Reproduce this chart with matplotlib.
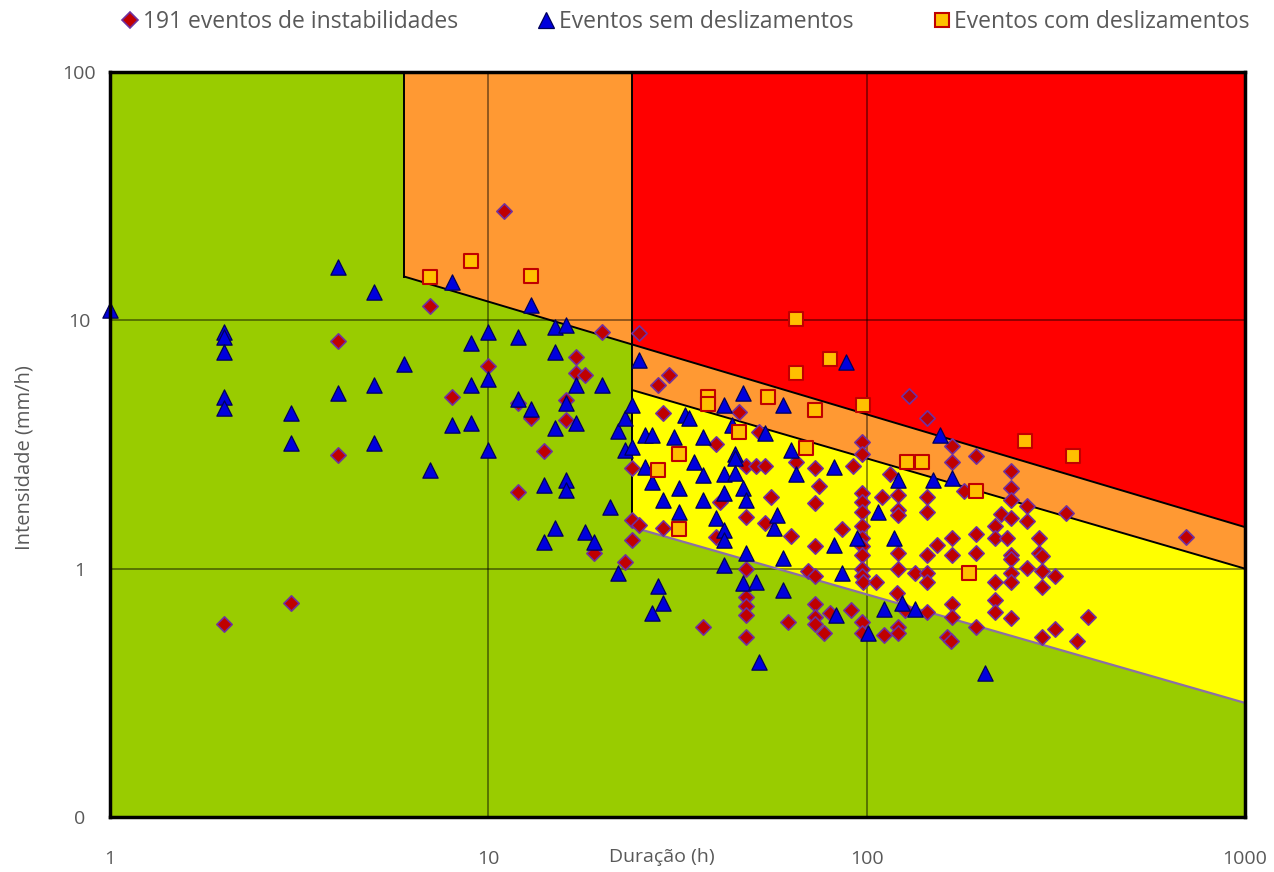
import numpy as np
import matplotlib
matplotlib.use('Agg')
import matplotlib.pyplot as plt
from matplotlib.lines import Line2D

plt.rcParams['font.family'] = ['Open Sans', 'DejaVu Sans']

# ---------------- data ----------------
# 191 eventos de instabilidades (duração h, intensidade mm/h)
inst_dur = [2, 3, 4, 4, 7, 8, 10, 11, 12, 12, 13, 14, 16, 16, 17, 17, 18, 19, 20,
            23, 24, 24, 24, 25, 25, 28, 29, 29, 30, 37, 40, 40, 41, 46,
            48, 48, 48, 48, 48, 48, 48, 51, 52, 54, 54, 56, 62, 63, 65, 70,
            73, 73, 73, 73, 73, 73, 73, 75, 77, 80, 86, 91, 92,
            97, 97, 97, 97, 97, 97, 97, 97, 97, 97, 97, 97, 97,
            98, 106, 110, 111, 115, 120,
            121, 121, 121, 121, 121, 121, 121, 126, 129, 134,
            144, 144, 144, 144, 144, 144, 144, 153, 163, 167,
            168, 168, 168, 168, 168, 168, 181, 194, 194, 194, 194,
            218, 218, 218, 218, 218, 227, 235,
            240, 240, 240, 240, 240, 240, 240, 240, 240,
            266, 266, 266, 286, 286, 290, 290, 290, 290, 315, 315, 337, 360, 385, 700]
inst_int = [0.60, 0.73, 8.26, 2.87, 11.4, 4.9, 6.55, 27.6, 2.03, 4.65, 4.05, 2.98, 3.96, 4.78, 7.12, 6.13, 6.0, 1.16, 8.98,
            1.06, 2.54, 1.57, 1.30, 1.50, 8.9, 5.49, 1.46, 4.24, 6.03, 0.58, 3.18, 1.34, 1.86, 4.28,
            2.6, 1.61, 1.0, 0.77, 0.71, 0.65, 0.53, 2.6, 3.55, 2.6, 1.53, 1.94, 0.61, 1.36, 2.7, 0.98,
            2.54, 1.84, 1.23, 0.93, 0.72, 0.64, 0.60, 2.15, 0.55, 0.66, 1.45, 0.68, 2.6,
            3.24, 2.9, 2.02, 1.86, 1.69, 1.48, 1.33, 1.23, 1.13, 1.0, 0.93, 0.61, 0.55,
            0.88, 0.88, 1.94, 0.54, 2.40, 0.80,
            1.98, 1.73, 1.64, 1.16, 1.0, 0.58, 0.55, 0.68, 4.96, 0.96,
            4.04, 1.94, 1.69, 1.13, 0.96, 0.88, 0.67, 1.25, 0.53, 0.51,
            3.12, 2.7, 1.33, 1.13, 0.72, 0.64, 2.06, 2.84, 1.38, 1.16, 0.58,
            1.48, 1.33, 0.88, 0.75, 0.67, 1.66, 1.33,
            2.47, 2.11, 1.89, 1.60, 1.13, 1.09, 0.96, 0.88, 0.63,
            1.79, 1.56, 1.01, 1.33, 1.16, 1.12, 0.98, 0.84, 0.53, 0.93, 0.57, 1.67, 0.51, 0.64, 1.34]

# Eventos sem deslizamentos
sem_dur = [1, 2, 2, 2, 2, 2, 3, 3, 4, 4, 5, 5, 5, 6, 7, 8, 8, 9, 9, 9, 10, 10, 10,
           12, 12, 13, 13, 14, 14, 15, 15, 15, 15, 16, 16, 16, 16, 17, 17, 18, 19,
           20, 21, 22, 22, 23, 23, 24, 24, 25, 26, 26, 27, 27, 27, 28, 29, 29,
           31, 32, 32, 33, 34, 35, 37, 37, 37, 40, 42, 42, 42, 42, 42, 42, 44,
           45, 45, 45, 47, 47, 47, 48, 48, 51, 52, 54, 57, 58, 60, 60, 60, 63, 65,
           82, 82, 83, 86, 88, 94, 101, 107, 111, 118, 121, 124, 134, 150, 156, 168, 205]
sem_int = [11.0, 9.0, 8.6, 7.45, 4.9, 4.45, 4.25, 3.2, 16.4, 5.1, 13.0, 5.5, 3.2, 6.7, 2.5, 14.3, 3.8, 8.1, 5.5, 3.85, 9.0, 5.8, 3.0,
           8.6, 4.8, 11.5, 4.4, 2.17, 1.28, 9.4, 7.45, 3.7, 1.46, 9.6, 4.65, 2.27, 2.07, 5.5, 3.86, 1.40, 1.28,
           5.5, 1.77, 3.6, 0.96, 4.05, 3.0, 4.56, 3.09, 6.9, 3.45, 2.57, 3.45, 2.23, 0.66, 0.85, 1.89, 0.73,
           3.4, 2.11, 1.69, 4.15, 4.05, 2.69, 3.4, 2.38, 1.89, 1.60, 4.56, 2.4, 2.02, 1.43, 1.30, 1.03, 3.8,
           2.9, 2.8, 2.42, 5.1, 2.11, 0.875, 1.89, 1.16, 0.88, 0.42, 3.52, 1.46, 1.64, 4.56, 1.10, 0.82, 3.0, 2.4,
           2.57, 1.25, 0.65, 0.96, 6.8, 1.33, 0.55, 1.69, 0.69, 1.33, 2.27, 0.73, 0.69, 2.27, 3.45, 2.32, 0.38]

# Eventos com deslizamentos
com_dur = [7, 9, 13, 28, 32, 32, 38, 38, 46, 55, 65, 65, 69, 73, 80, 98, 128, 140, 186, 195, 262, 350]
com_int = [14.9, 17.3, 15.1, 2.5, 2.9, 1.44, 4.91, 4.6, 3.55, 4.91, 10.1, 6.13, 3.06, 4.35, 6.98, 4.56,
           2.7, 2.7, 0.96, 2.06, 3.27, 2.84]

# limiares (duração, intensidade)
lim_superior_d = [6, 1000]
lim_superior_i = [15.0, 1.47]
lim_medio_d = [24, 1000]
lim_medio_i = [5.24, 1.0]
lim_inferior_d = [24, 1000]
lim_inferior_i = [1.47, 0.288]

x_ticks = [1, 10, 100, 1000]
x_tick_labels = ['1', '10', '100', '1000']
y_ticks = [0.1, 1, 10, 100]
y_tick_labels = ['0', '1', '10', '100']

legend_labels = ['191 eventos de instabilidades', 'Eventos sem deslizamentos', 'Eventos com deslizamentos']

GREEN = '#99CC00'
ORANGE = '#FF9933'
RED = '#FF0000'
YELLOW = '#FFFF00'
TXT = '#595959'


def on_line(xs, ys, x):
    lx = np.log10(xs)
    ly = np.log10(ys)
    return 10 ** np.interp(np.log10(x), lx, ly)


fig = plt.figure(figsize=(12.74, 8.72), dpi=100)
ax = fig.add_axes([110 / 1274, 1 - 817 / 872, 1135 / 1274, 745 / 872])
ax.set_xscale('log')
ax.set_yscale('log')
ax.set_xlim(1, 1000)
ax.set_ylim(0.1, 100)
ax.set_facecolor(GREEN)

ymax = 100
d0 = lim_medio_d[0]
s_at = on_line(lim_superior_d, lim_superior_i, d0)
# orange zone
ax.fill([lim_superior_d[0], lim_superior_d[0], d0, d0, lim_medio_d[1], lim_medio_d[1]],
        [ymax, lim_superior_i[0], s_at, lim_medio_i[0], lim_medio_i[1], ymax],
        color=ORANGE, lw=0, zorder=1)
# red zone
ax.fill([d0, d0, lim_superior_d[1], lim_superior_d[1]],
        [ymax, s_at, lim_superior_i[1], ymax], color=RED, lw=0, zorder=1.1)
# yellow zone
ax.fill([d0, lim_medio_d[1], lim_inferior_d[1], d0],
        [lim_medio_i[0], lim_medio_i[1], lim_inferior_i[1], lim_inferior_i[0]],
        color=YELLOW, lw=0, zorder=1.1)

# grid
for xv in [10, 100]:
    ax.axvline(xv, color='black', alpha=0.55, lw=1.1, zorder=1.5)
for yv in [1, 10]:
    ax.axhline(yv, color='black', alpha=0.55, lw=1.1, zorder=1.5)

# threshold lines
ax.plot(lim_superior_d, lim_superior_i, color='black', lw=1.4, zorder=1.6)
ax.plot(lim_medio_d, lim_medio_i, color='black', lw=1.4, zorder=1.6)
ax.plot(lim_inferior_d, lim_inferior_i, color='#8C6FA6', lw=1.6, zorder=1.6)
ax.plot([lim_superior_d[0]] * 2, [ymax, lim_superior_i[0]], color='black', lw=1.4, zorder=1.6)
ax.plot([d0] * 2, [ymax, lim_inferior_i[0]], color='black', lw=1.4, zorder=1.6)

# markers
ax.scatter(inst_dur, inst_int, marker='D', s=7.8 ** 2, facecolor='#C00000',
           edgecolor='#7030A0', linewidth=1.2, zorder=3, clip_on=False)
ax.scatter(sem_dur, sem_int, marker='^', s=11 ** 2, facecolor='#0000DD',
           edgecolor='#00005A', linewidth=0.9, zorder=4, clip_on=False)
ax.scatter(com_dur, com_int, marker='s', s=10 ** 2, facecolor='#FFC000',
           edgecolor='#C00000', linewidth=1.5, zorder=5, clip_on=False)

for sp in ax.spines.values():
    sp.set_linewidth(2.5)
    sp.set_color('black')
    sp.set_zorder(6)

ax.set_xticks(x_ticks)
ax.set_xticklabels(x_tick_labels)
ax.set_yticks(y_ticks)
ax.set_yticklabels(y_tick_labels)
ax.minorticks_off()
ax.tick_params(axis='both', length=0, labelsize=14, labelcolor=TXT)
ax.tick_params(axis='x', pad=24)
ax.tick_params(axis='y', pad=22)
for t in ax.get_yticklabels():
    t.set_horizontalalignment('center')

fig.text(662 / 1274, 1 - 857 / 872, 'Duração (h)', ha='center', va='center', fontsize=14, color=TXT)
fig.text(25 / 1274, 1 - 458 / 872, 'Intensidade (mm/h)', ha='center', va='center', rotation=90,
         fontsize=14.5, color=TXT)

handles = [
    Line2D([], [], ls='none', marker='D', ms=7.8, mfc='#C00000', mec='#7030A0', mew=1.2),
    Line2D([], [], ls='none', marker='^', ms=11, mfc='#0000DD', mec='#00005A', mew=0.9),
    Line2D([], [], ls='none', marker='s', ms=10, mfc='#FFC000', mec='#C00000', mew=1.5),
]
leg = fig.legend(handles, legend_labels, loc='center', bbox_to_anchor=(686 / 1274, 1 - 22 / 872),
                 ncol=3, frameon=False, fontsize=16.5, handlelength=0.7, handletextpad=0.2,
                 columnspacing=3.5, borderpad=0)
for t in leg.get_texts():
    t.set_color(TXT)

fig.savefig('out.png', dpi=100)
